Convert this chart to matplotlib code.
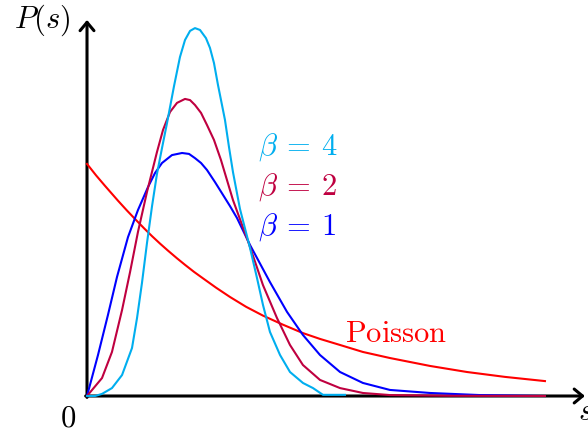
#!/usr/bin/env python3
"""Level-spacing distributions: Wigner surmise (beta = 1, 2, 4) vs. Poisson."""
import matplotlib

matplotlib.use("Agg")
import matplotlib.pyplot as plt

plt.rcParams["mathtext.fontset"] = "cm"
plt.rcParams["font.family"] = ["DejaVu Serif"]

# values (s on x, P(s) on y)
s_beta4 = [0.0, 0.070, 0.131, 0.218, 0.306, 0.393, 0.437, 0.480, 0.524, 0.568,
           0.611, 0.655, 0.699, 0.760, 0.812, 0.856, 0.900, 0.943, 0.987, 1.039,
           1.074, 1.109, 1.144, 1.179, 1.205, 1.240, 1.275, 1.336, 1.424, 1.485,
           1.537, 1.598, 1.686, 1.773, 1.886, 1.974, 2.061, 2.253]
p_beta4 = [0.0, 0.0, 0.009, 0.034, 0.090, 0.206, 0.335, 0.485, 0.657, 0.815,
           0.953, 1.064, 1.172, 1.330, 1.455, 1.528, 1.567, 1.579, 1.571, 1.536,
           1.494, 1.429, 1.335, 1.249, 1.185, 1.069, 0.961, 0.803, 0.635, 0.506,
           0.391, 0.275, 0.176, 0.103, 0.056, 0.034, 0.005, 0.005]

s_beta2 = [0.0, 0.131, 0.218, 0.306, 0.376, 0.445, 0.524, 0.611, 0.664, 0.725,
           0.786, 0.856, 0.900, 0.943, 0.996, 1.048, 1.109, 1.170, 1.275, 1.406,
           1.537, 1.659, 1.773, 1.886, 2.035, 2.210, 2.410, 2.646, 3.170, 4.0]
p_beta2 = [0.0, 0.077, 0.189, 0.369, 0.532, 0.704, 0.876, 1.047, 1.142, 1.219,
           1.258, 1.275, 1.270, 1.249, 1.215, 1.163, 1.099, 1.013, 0.841, 0.665,
           0.476, 0.335, 0.219, 0.133, 0.069, 0.034, 0.013, 0.004, 0.001, 0.0]

s_beta1 = [0.0, 0.096, 0.183, 0.262, 0.358, 0.445, 0.533, 0.594, 0.655, 0.742,
           0.830, 0.891, 0.943, 0.996, 1.048, 1.118, 1.188, 1.249, 1.310, 1.424,
           1.598, 1.747, 1.886, 2.035, 2.210, 2.410, 2.646, 2.996, 3.432, 4.0]
p_beta1 = [0.0, 0.176, 0.348, 0.511, 0.682, 0.798, 0.897, 0.957, 1.000, 1.034,
           1.043, 1.039, 1.021, 1.000, 0.970, 0.918, 0.863, 0.815, 0.764, 0.648,
           0.489, 0.361, 0.262, 0.176, 0.103, 0.056, 0.026, 0.013, 0.004, 0.0]

s_poisson = [0.0, 0.079, 0.157, 0.271, 0.349, 0.419, 0.498, 0.568, 0.638, 0.707,
             0.786, 0.856, 0.934, 1.013, 1.127, 1.249, 1.389, 1.537, 1.712, 1.886,
             2.035, 2.210, 2.410, 2.646, 2.821, 2.996, 3.319, 3.651, 4.0]
p_poisson = [0.996, 0.947, 0.902, 0.838, 0.796, 0.760, 0.720, 0.686, 0.654, 0.624,
             0.591, 0.563, 0.533, 0.505, 0.465, 0.425, 0.383, 0.345, 0.306, 0.270,
             0.245, 0.219, 0.189, 0.163, 0.146, 0.129, 0.103, 0.082, 0.064]

series = [
    (s_beta4, p_beta4, "#00AEEF", r"$\beta\:=\:4$"),
    (s_beta2, p_beta2, "#BF0040", r"$\beta\:=\:2$"),
    (s_beta1, p_beta1, "#0000FF", r"$\beta\:=\:1$"),
]
poisson_color = "#FF0000"


def main() -> None:
    fig = plt.figure(figsize=(5.88, 4.32), dpi=100)
    ax = fig.add_axes([0, 0, 1, 1])
    ax.set_xlim(-0.760, 4.376)
    ax.set_ylim(-0.1545, 1.6996)
    ax.axis("off")

    # axes with open arrow heads
    arrow = dict(arrowstyle="->, head_length=0.6, head_width=0.5", lw=2.2,
                 color="black", shrinkA=0, shrinkB=0)
    ax.annotate("", xy=(4.349, 0), xytext=(-0.012, 0), arrowprops=arrow, zorder=1)
    ax.annotate("", xy=(0, 1.614), xytext=(0, -0.006), arrowprops=arrow, zorder=1)

    ax.plot(s_poisson, p_poisson, color=poisson_color, lw=1.5, zorder=3,
            solid_joinstyle="round")
    for s, p, color, _ in reversed(series):
        ax.plot(s, p, color=color, lw=1.5, zorder=3, solid_joinstyle="round")

    # curve labels
    for (_, _, color, label), y in zip(series, [1.069, 0.897, 0.725]):
        ax.text(1.493, y, label, color=color, fontsize=22, ha="left", va="center")
    ax.text(2.253, 0.232, r"$\mathrm{Poisson}$", color=poisson_color, fontsize=22,
            ha="left", va="baseline")

    ax.text(-0.393, 1.614, r"$P(s)$", fontsize=22, ha="center", va="center")
    ax.text(-0.166, -0.094, r"$0$", fontsize=22, ha="center", va="center")
    ax.text(4.285, -0.065, r"$s$", fontsize=22, ha="left", va="center")

    fig.savefig("out.png", dpi=100)
    plt.close(fig)


if __name__ == "__main__":
    main()
